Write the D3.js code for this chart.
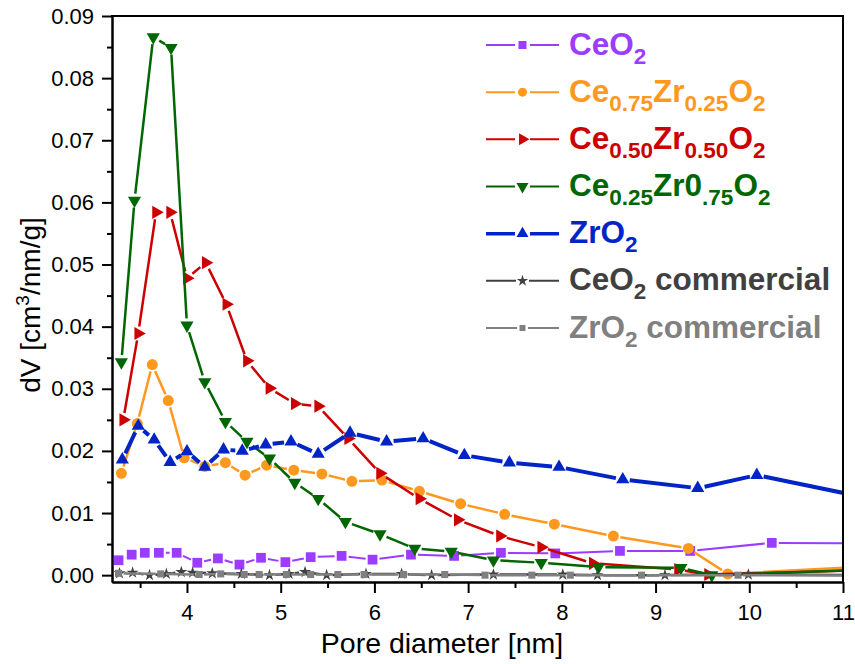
<!DOCTYPE html>
<html>
<head>
<meta charset="utf-8">
<script src="https://cdn.jsdelivr.net/npm/d3@7"></script>
<style>
  body { margin: 0; background: #fff; }
  svg { display: block; font-family: "Liberation Sans", Arial, sans-serif; }
</style>
</head>
<body>
<svg id="chart" width="855" height="664"></svg>
<script>
// pore diameter (nm) and dV (cm3/nm/g) per sample
const ceo2X = [3.27, 3.41, 3.55, 3.70, 3.89, 4.11, 4.33, 4.56, 4.79, 5.05, 5.32, 5.65, 5.98, 6.39, 6.85, 7.35, 7.93, 8.62, 9.37, 10.24, 11.5]
const ceo2Y = [0.0024, 0.0033, 0.0036, 0.0036, 0.0036, 0.0020, 0.0027, 0.0017, 0.0028, 0.0021, 0.0029, 0.0031, 0.0025, 0.0033, 0.0031, 0.0036, 0.0035, 0.0039, 0.0039, 0.0052, 0.0051]

const ce75X = [3.30, 3.47, 3.63, 3.80, 3.97, 4.19, 4.41, 4.62, 4.85, 5.14, 5.44, 5.76, 6.08, 6.48, 6.92, 7.39, 7.92, 8.55, 9.35, 9.77, 11.5]
const ce75Y = [0.0164, 0.0244, 0.0339, 0.0281, 0.0189, 0.0175, 0.0181, 0.0161, 0.0177, 0.0169, 0.0163, 0.0151, 0.0153, 0.0135, 0.0115, 0.0098, 0.0082, 0.0063, 0.0043, 0.0002, 0.0016]

const ce50X = [3.32, 3.48, 3.67, 3.82, 4.00, 4.20, 4.42, 4.64, 4.88, 5.15, 5.40, 5.72, 6.06, 6.48, 6.89, 7.34, 7.78, 8.33, 9.24, 9.56, 11.5]
const ce50Y = [0.0250, 0.0389, 0.0584, 0.0584, 0.0478, 0.0503, 0.0436, 0.0345, 0.0301, 0.0276, 0.0272, 0.0220, 0.0164, 0.0123, 0.0089, 0.0063, 0.0045, 0.0019, 0.0009, 0.0001, 0.0009]

const ce25X = [3.30, 3.44, 3.64, 3.83, 4.00, 4.19, 4.41, 4.64, 4.88, 5.15, 5.40, 5.69, 6.06, 6.43, 6.82, 7.27, 7.78, 8.39, 9.27, 9.60, 11.5]
const ce25Y = [0.0343, 0.0603, 0.0866, 0.0849, 0.0402, 0.0311, 0.0247, 0.0215, 0.0188, 0.0149, 0.0123, 0.0086, 0.0066, 0.0043, 0.0038, 0.0024, 0.0020, 0.0013, 0.0012, 0.0000, 0.0010]

const zro2X = [3.31, 3.48, 3.65, 3.82, 4.00, 4.19, 4.39, 4.59, 4.84, 5.11, 5.40, 5.74, 6.13, 6.52, 6.96, 7.44, 7.97, 8.65, 9.45, 10.08, 11.5]
const zro2Y = [0.0186, 0.0240, 0.0218, 0.0182, 0.0199, 0.0174, 0.0202, 0.0200, 0.0210, 0.0215, 0.0195, 0.0229, 0.0215, 0.0220, 0.0193, 0.0181, 0.0174, 0.0154, 0.0140, 0.0161, 0.0117]

const ceCommX = [3.28, 3.42, 3.60, 3.78, 3.94, 4.06, 4.27, 4.58, 4.88, 5.09, 5.26, 5.49, 5.91, 6.29, 6.61, 7.27, 8.01, 8.38, 9.10, 9.99, 11.5]
const ceCommY = [0.0003, 0.0004, 0.0000, 0.0002, 0.0005, 0.0004, 0.0003, 0.0002, 0.0000, 0.0002, 0.0005, 0.0000, 0.0002, 0.0002, 0.0000, 0.0001, 0.0001, 0.0000, 0.0000, 0.0001, 0.0000]

const zrCommX = [3.27, 3.72, 4.13, 4.36, 4.61, 4.77, 5.06, 5.32, 5.61, 5.89, 6.31, 6.75, 7.18, 7.68, 8.09, 8.85, 9.88, 11.5]
const zrCommY = [0.0003, 0.0002, 0.0001, 0.0002, 0.0001, 0.0001, 0.0001, 0.0001, 0.0001, 0.0001, 0.0001, 0.0001, 0.0000, 0.0000, 0.0000, 0.0000, 0.0000, -0.0001]

const xTicks = [4, 5, 6, 7, 8, 9, 10, 11]
const xMinorTicks = [3.5, 4.5, 5.5, 6.5, 7.5, 8.5, 9.5, 10.5]
const yTicks = [0, 0.01, 0.02, 0.03, 0.04, 0.05, 0.06, 0.07, 0.08, 0.09]
const yMinorTicks = [0.005, 0.015, 0.025, 0.035, 0.045, 0.055, 0.065, 0.075, 0.085]

// legend labels: [text, isSubscript]
const labels = [
  [['CeO', 0], ['2', 1]],
  [['Ce', 0], ['0.75', 1], ['Zr', 0], ['0.25', 1], ['O', 0], ['2', 1]],
  [['Ce', 0], ['0.50', 1], ['Zr', 0], ['0.50', 1], ['O', 0], ['2', 1]],
  [['Ce', 0], ['0.25', 1], ['Zr0', 0], ['.75', 1], ['O', 0], ['2', 1]],
  [['ZrO', 0], ['2', 1]],
  [['CeO', 0], ['2', 1], [' commercial', 0]],
  [['ZrO', 0], ['2', 1], [' commercial', 0]]
]

const series = [
  { xs: ceo2X, ys: ceo2Y, color: '#9b3cff', width: 2, shape: d3.symbolSquare, size: 95, rot: 0, gap: 7, lsize: 64 },
  { xs: ce75X, ys: ce75Y, color: '#ff981f', width: 2.5, shape: d3.symbolCircle, size: 95, rot: 0, gap: 7, lsize: 64 },
  { xs: ce50X, ys: ce50Y, color: '#cc0000', width: 2.5, shape: d3.symbolTriangle, size: 75, rot: 90, gap: 7, lsize: 62 },
  { xs: ce25X, ys: ce25Y, color: '#006600', width: 2.5, shape: d3.symbolTriangle, size: 75, rot: 180, gap: 7, lsize: 62 },
  { xs: zro2X, ys: zro2Y, color: '#0024c6', width: 4, shape: d3.symbolTriangle, size: 75, rot: 0, gap: 7, lsize: 62 },
  { xs: ceCommX, ys: ceCommY, color: '#404040', width: 2.5, shape: d3.symbolStar, size: 45, rot: 0, gap: 6, lsize: 40 },
  { xs: zrCommX, ys: zrCommY, color: '#808080', width: 2.5, shape: d3.symbolSquare, size: 50, rot: 0, gap: 5, lsize: 36 }
]

const svg = d3.select('#chart')
const pLeft = 112, pRight = 843, pTop = 16, pBottom = 582

const x = d3.scaleLinear().domain([3.2, 11]).range([pLeft, pRight])
const y = d3.scaleLinear().domain([-0.0011, 0.09]).range([pBottom, pTop])

svg.append('clipPath').attr('id', 'plotclip')
  .append('rect').attr('x', pLeft).attr('y', pTop).attr('width', pRight - pLeft).attr('height', pBottom - pTop)

// line broken around every marker, the way Origin draws it
function gappedPath(pts, gap) {
  let d = ''
  for (let i = 0; i < pts.length - 1; i++) {
    const [x0, y0] = pts[i], [x1, y1] = pts[i + 1]
    const len = Math.hypot(x1 - x0, y1 - y0)
    if (len <= 2 * gap) continue
    const ux = (x1 - x0) / len, uy = (y1 - y0) / len
    d += 'M' + (x0 + ux * gap) + ',' + (y0 + uy * gap) + 'L' + (x1 - ux * gap) + ',' + (y1 - uy * gap)
  }
  return d
}

const plot = svg.append('g').attr('clip-path', 'url(#plotclip)')

series.forEach(s => {
  const pts = s.xs.map((v, i) => [x(v), y(s.ys[i])])
  const g = plot.append('g')
  g.append('path')
    .attr('d', gappedPath(pts, s.gap))
    .attr('fill', 'none')
    .attr('stroke', s.color)
    .attr('stroke-width', s.width)
  g.selectAll('path.m')
    .data(pts)
    .enter().append('path')
    .attr('class', 'm')
    .attr('d', d3.symbol().type(s.shape).size(s.size))
    .attr('transform', p => 'translate(' + p[0] + ',' + p[1] + ') rotate(' + s.rot + ')')
    .attr('fill', s.color)
})

// axes
const xAxis = svg.append('g')
  .attr('transform', 'translate(0,' + pBottom + ')')
  .call(d3.axisBottom(x).tickValues(xTicks).tickFormat(d3.format('d')).tickSize(11).tickSizeOuter(0).tickPadding(11))
const xMinor = svg.append('g')
  .attr('transform', 'translate(0,' + pBottom + ')')
  .call(d3.axisBottom(x).tickValues(xMinorTicks).tickFormat('').tickSize(6).tickSizeOuter(0))
const yAxis = svg.append('g')
  .attr('transform', 'translate(' + pLeft + ',0)')
  .call(d3.axisLeft(y).tickValues(yTicks).tickFormat(d3.format('.2f')).tickSize(10).tickSizeOuter(0).tickPadding(8))
const yMinor = svg.append('g')
  .attr('transform', 'translate(' + pLeft + ',0)')
  .call(d3.axisLeft(y).tickValues(yMinorTicks).tickFormat('').tickSize(5).tickSizeOuter(0))

;[xAxis, xMinor, yAxis, yMinor].forEach(a => {
  a.selectAll('path, line').attr('stroke', '#000').attr('stroke-width', 2)
  a.selectAll('text').attr('font-size', 22).attr('fill', '#000')
    .attr('font-family', '"Liberation Sans", Arial, sans-serif')
})

// frame
svg.append('line').attr('x1', pLeft - 1).attr('x2', pRight + 1).attr('y1', pTop).attr('y2', pTop)
  .attr('stroke', '#000').attr('stroke-width', 2)
svg.append('line').attr('x1', pRight).attr('x2', pRight).attr('y1', pTop).attr('y2', pBottom + 1)
  .attr('stroke', '#000').attr('stroke-width', 2)

// axis titles
svg.append('text')
  .attr('x', 442).attr('y', 653)
  .attr('text-anchor', 'middle')
  .attr('font-size', 28.5)
  .text('Pore diameter [nm]')

const yTitle = svg.append('text')
  .attr('transform', 'translate(40,305) rotate(-90)')
  .attr('text-anchor', 'middle')
  .attr('font-size', 28)
yTitle.append('tspan').text('dV [cm')
yTitle.append('tspan').attr('font-size', 19).attr('dy', -11).text('3')
yTitle.append('tspan').attr('dy', 11).text('/nm/g]')

// legend
const legend = svg.append('g')
const rowY = d3.scaleLinear().domain([0, 6]).range([45, 328])
series.forEach((s, i) => {
  const cy = rowY(i)
  const row = legend.append('g')
  row.append('path')
    .attr('d', 'M486,' + cy + 'H' + (522 - s.gap) + 'M' + (523 + s.gap) + ',' + cy + 'H559')
    .attr('stroke', s.color).attr('stroke-width', s.width === 4 ? 3.5 : 2)
  row.append('path')
    .attr('d', d3.symbol().type(s.shape).size(s.lsize))
    .attr('transform', 'translate(522.5,' + cy + ') rotate(' + s.rot + ')')
    .attr('fill', s.color)
  const t = row.append('text')
    .attr('x', 569).attr('y', cy + 9.5)
    .attr('font-size', 31.5).attr('font-weight', 'bold')
    .attr('fill', s.color)
  let shifted = false
  labels[i].forEach(([txt, sub]) => {
    const span = t.append('tspan').text(txt)
    if (sub && !shifted) { span.attr('dy', 9).attr('font-size', 22.5); shifted = true }
    else if (sub) { span.attr('font-size', 22.5) }
    else if (shifted) { span.attr('dy', -9); shifted = false }
  })
})
</script>
</body>
</html>
